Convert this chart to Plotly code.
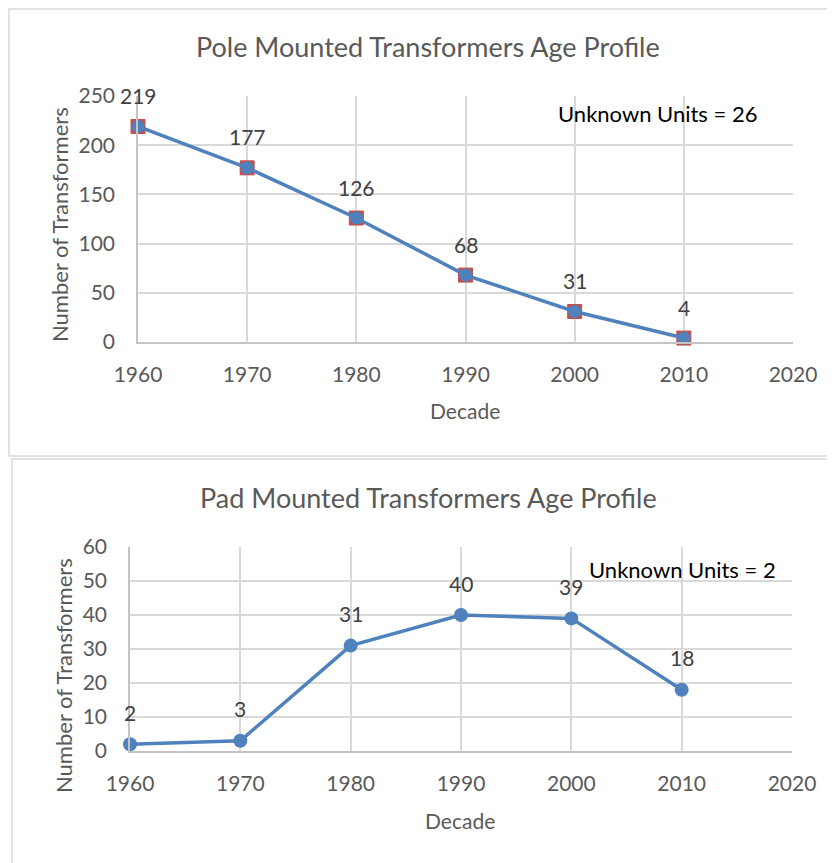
import plotly.graph_objects as go

# ---- data ----
decades = [1960, 1970, 1980, 1990, 2000, 2010]
pole_counts = [219, 177, 126, 68, 31, 4]
pad_counts = [2, 3, 31, 40, 39, 18]
x_ticks = [1960, 1970, 1980, 1990, 2000, 2010, 2020]
pole_y_ticks = [0, 50, 100, 150, 200, 250]
pad_y_ticks = [0, 10, 20, 30, 40, 50, 60]
pole_title = "Pole Mounted Transformers Age Profile"
pad_title = "Pad Mounted Transformers Age Profile"
pole_note = "Unknown Units = 26"
pad_note = "Unknown Units = 2"
x_title = "Decade"
y_title = "Number of Transformers"

W, H = 835, 863
OFF = 8  # page body margin
FONT = "Lato"
BLUE = "#4F81BD"
RED = "#C0504D"
GRID = "#d9d9d9"
AXIS = "#c4c4c4"
TXT = "#595959"
LBL = "#404040"

def px_x(p):
    return (p - OFF) / W

def px_y(p):
    return 1 - (p - OFF) / H

fig = go.Figure()

# Top chart: red squares under blue line with circles
fig.add_trace(go.Scatter(x=decades, y=pole_counts, mode="markers",
                         marker=dict(symbol="square", size=14, color=RED,
                                     line=dict(color=RED, width=1)),
                         xaxis="x", yaxis="y", hoverinfo="skip", cliponaxis=False))
fig.add_trace(go.Scatter(x=decades, y=pole_counts, mode="lines+markers",
                         line=dict(color=BLUE, width=3.5),
                         marker=dict(symbol="circle", size=13, color=BLUE),
                         xaxis="x", yaxis="y", cliponaxis=False))
# Bottom chart
fig.add_trace(go.Scatter(x=decades, y=pad_counts, mode="lines+markers",
                         line=dict(color=BLUE, width=3.5),
                         marker=dict(symbol="circle", size=14, color=BLUE),
                         xaxis="x2", yaxis="y2", cliponaxis=False))

tickfont = dict(family=FONT, size=21, color=TXT)

def xaxis(domain, anchor):
    return dict(domain=domain, anchor=anchor, range=[1960, 2020],
                tickvals=x_ticks, ticktext=[str(v) for v in x_ticks],
                showgrid=True, gridcolor=GRID, gridwidth=1.5,
                showline=True, linecolor=AXIS, linewidth=1.5,
                zeroline=False, tickfont=tickfont, ticks="",
                ticklabelstandoff=13, automargin=False)

def yaxis(domain, anchor, rng, vals):
    return dict(domain=domain, anchor=anchor, range=rng,
                tickvals=vals, showgrid=True, gridcolor=GRID, gridwidth=1.5,
                showline=True, linecolor=AXIS, linewidth=1.5,
                zeroline=False, tickfont=tickfont, ticks="",
                ticklabelstandoff=17, automargin=False)

annotations = []
# titles
annotations.append(dict(text=pole_title, x=px_x(428), y=px_y(47), xref="paper", yref="paper",
                        showarrow=False, font=dict(family=FONT, size=27, color=TXT),
                        xanchor="center", yanchor="middle"))
annotations.append(dict(text=pad_title, x=px_x(428), y=px_y(497), xref="paper", yref="paper",
                        showarrow=False, font=dict(family=FONT, size=27, color=TXT),
                        xanchor="center", yanchor="middle"))
# axis titles
for xc, yc in [(465, 410), (460, 820)]:
    annotations.append(dict(text=x_title, x=px_x(xc), y=px_y(yc), xref="paper", yref="paper",
                            showarrow=False, font=dict(family=FONT, size=21, color=TXT),
                            xanchor="center", yanchor="middle"))
for xc, yc in [(59, 225), (63, 676)]:
    annotations.append(dict(text=y_title, x=px_x(xc), y=px_y(yc), xref="paper", yref="paper",
                            showarrow=False, textangle=-90,
                            font=dict(family=FONT, size=22, color=TXT),
                            xanchor="center", yanchor="middle"))
# notes
annotations.append(dict(text=pole_note, x=px_x(657), y=px_y(113), xref="paper", yref="paper",
                        showarrow=False, font=dict(family=FONT, size=22, color="#000000"),
                        xanchor="center", yanchor="middle"))
annotations.append(dict(text=pad_note, x=px_x(682), y=px_y(569), xref="paper", yref="paper",
                        showarrow=False, font=dict(family=FONT, size=22, color="#000000"),
                        xanchor="center", yanchor="middle"))
# data labels
for xv, yv in zip(decades, pole_counts):
    annotations.append(dict(text=str(yv), x=xv, y=yv, xref="x", yref="y", showarrow=False,
                            yshift=31, font=dict(family=FONT, size=21, color=LBL)))
for xv, yv in zip(decades, pad_counts):
    annotations.append(dict(text=str(yv), x=xv, y=yv, xref="x2", yref="y2", showarrow=False,
                            yshift=32, font=dict(family=FONT, size=21, color=LBL)))

shapes = [
    dict(type="rect", xref="paper", yref="paper", x0=px_x(9), x1=px_x(860), y0=px_y(456), y1=px_y(9),
         line=dict(color=GRID, width=1.5), fillcolor="rgba(0,0,0,0)", layer="below"),
    dict(type="rect", xref="paper", yref="paper", x0=px_x(12), x1=px_x(860), y0=px_y(900), y1=px_y(459),
         line=dict(color=GRID, width=1.5), fillcolor="rgba(0,0,0,0)", layer="below"),
]

fig.update_layout(
    width=W, height=H, margin=dict(l=0, r=0, t=0, b=0, pad=0, autoexpand=False),
    paper_bgcolor="white", plot_bgcolor="white", showlegend=False,
    xaxis=xaxis([px_x(138), px_x(793)], "y"),
    yaxis=yaxis([px_y(342), px_y(96)], "x", [0, 250], pole_y_ticks),
    xaxis2=xaxis([px_x(130), px_x(792)], "y2"),
    yaxis2=yaxis([px_y(751), px_y(547)], "x2", [0, 60], pad_y_ticks),
    annotations=annotations, shapes=shapes,
    font=dict(family=FONT),
)

fig.write_html("out.html")
